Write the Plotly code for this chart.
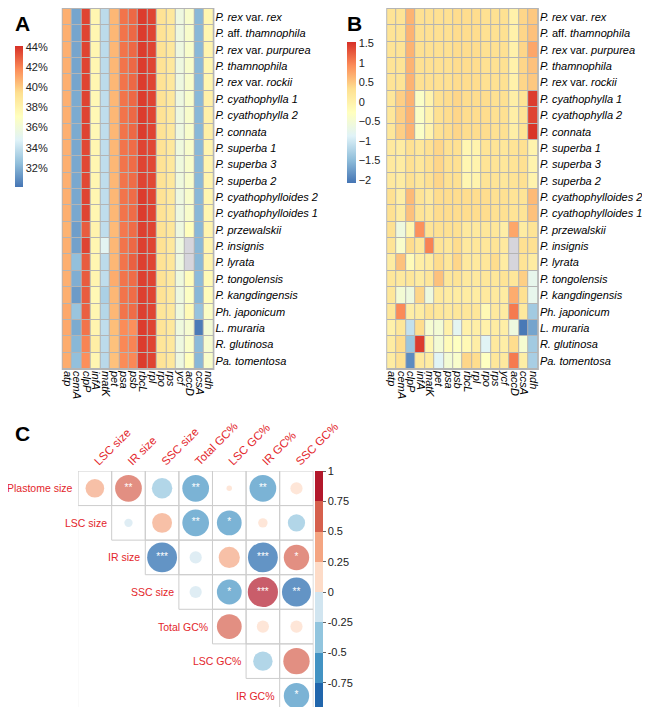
import numpy as np
import plotly.graph_objects as go

nan = np.nan

genes = ['atp', 'cemA', 'clpP', 'infA', 'matK', 'pet', 'psa', 'psb',
         'rbcL', 'rpl', 'rpo', 'rps', 'ycf', 'accD', 'ccsA', 'ndh']

taxa = [
    '<i>P. rex</i> var. <i>rex</i>',
    '<i>P.</i> aff. <i>thamnophila</i>',
    '<i>P. rex</i> var. <i>purpurea</i>',
    '<i>P. thamnophila</i>',
    '<i>P. rex</i> var. <i>rockii</i>',
    '<i>P. cyathophylla 1</i>',
    '<i>P. cyathophylla 2</i>',
    '<i>P. connata</i>',
    '<i>P. superba 1</i>',
    '<i>P. superba 3</i>',
    '<i>P. superba 2</i>',
    '<i>P. cyathophylloides 2</i>',
    '<i>P. cyathophylloides 1</i>',
    '<i>P. przewalskii</i>',
    '<i>P. insignis</i>',
    '<i>P. lyrata</i>',
    '<i>P. tongolensis</i>',
    '<i>P. kangdingensis</i>',
    '<i>Ph. japonicum</i>',
    '<i>L. muraria</i>',
    '<i>R. glutinosa</i>',
    '<i>Pa. tomentosa</i>',
]

# panel A: GC content (%) per gene group
gc_content = [
    [40.8, 31.6, 43.6, 37.8, 33.7, 40.6, 42.4, 42.7, 43.8, 43.6, 39.2, 38.8, 35.8, 36.6, 32.2, 37.8],
    [40.8, 31.6, 43.6, 37.8, 33.7, 40.6, 42.4, 42.7, 43.8, 43.6, 39.2, 38.8, 35.8, 36.6, 32.2, 37.8],
    [40.8, 31.6, 43.6, 37.8, 33.7, 40.6, 42.4, 42.7, 43.8, 43.6, 39.2, 38.8, 35.8, 36.6, 32.2, 37.9],
    [40.8, 31.6, 43.6, 37.8, 33.7, 40.6, 42.4, 42.7, 43.8, 43.6, 39.2, 38.8, 35.8, 36.6, 32.2, 37.8],
    [40.8, 31.6, 43.6, 37.8, 33.7, 40.6, 42.4, 42.7, 43.8, 43.6, 39.2, 38.8, 35.8, 36.6, 32.2, 37.8],
    [40.8, 31.8, 43.6, 37.6, 33.8, 40.6, 42.4, 42.7, 43.8, 43.6, 39.2, 38.8, 35.8, 36.6, 32.2, 38.2],
    [40.8, 31.8, 43.6, 37.6, 33.8, 40.6, 42.4, 42.7, 43.8, 43.6, 39.2, 38.8, 35.8, 36.6, 32.2, 38.2],
    [40.8, 31.8, 43.6, 37.6, 33.8, 40.6, 42.4, 42.7, 43.8, 43.6, 39.2, 38.8, 35.8, 36.6, 32.2, 38.3],
    [40.8, 31.7, 43.5, 37.8, 33.8, 40.6, 42.4, 42.6, 43.6, 43.5, 39.2, 38.8, 35.9, 36.6, 32.2, 37.9],
    [40.8, 31.7, 43.5, 37.8, 33.8, 40.6, 42.4, 42.6, 43.6, 43.5, 39.2, 38.8, 35.9, 36.6, 32.2, 37.9],
    [40.8, 31.7, 43.5, 37.8, 33.8, 40.6, 42.4, 42.6, 43.6, 43.5, 39.2, 38.8, 35.9, 36.6, 32.2, 37.9],
    [40.8, 31.7, 43.6, 37.8, 33.8, 40.6, 42.4, 42.6, 43.8, 43.6, 39.2, 38.8, 35.8, 36.6, 32.2, 37.8],
    [40.8, 31.7, 43.6, 37.8, 33.8, 40.6, 42.4, 42.6, 43.8, 43.6, 39.2, 38.8, 35.8, 36.6, 32.2, 37.8],
    [40.7, 31.4, 43.0, 38.0, 33.8, 40.5, 42.3, 42.6, 43.7, 43.6, 39.2, 38.9, 35.8, 37.2, 32.2, 37.9],
    [40.8, 31.5, 43.6, 37.8, 35.0, 40.6, 42.4, 42.7, 43.7, 43.6, 39.3, 38.8, 35.8, nan, 32.2, 37.9],
    [40.8, 32.5, 43.0, 37.8, 33.7, 40.6, 42.4, 42.9, 43.7, 43.6, 39.2, 38.9, 35.8, nan, 32.2, 37.9],
    [40.8, 31.9, 43.0, 37.9, 33.8, 40.9, 42.4, 42.6, 43.7, 43.6, 39.2, 38.8, 35.9, 37.3, 32.3, 37.5],
    [40.8, 31.3, 43.0, 37.6, 33.2, 40.6, 42.4, 42.6, 43.7, 43.6, 39.2, 38.8, 35.8, 36.9, 32.2, 37.3],
    [41.0, 32.7, 42.9, 37.8, 33.5, 40.6, 42.4, 42.6, 43.7, 43.6, 39.0, 38.8, 35.9, 37.5, 32.6, 36.8],
    [41.0, 31.8, 42.4, 37.9, 33.8, 40.4, 41.8, 41.7, 43.8, 43.6, 39.1, 38.8, 35.9, 36.4, 30.3, 36.2],
    [40.9, 32.2, 42.0, 38.4, 33.7, 40.3, 41.9, 42.0, 43.8, 43.6, 39.0, 38.8, 35.8, 36.7, 32.3, 36.4],
    [40.9, 32.5, 41.7, 37.8, 33.6, 40.3, 41.8, 41.9, 43.8, 43.6, 39.1, 38.8, 35.8, 37.2, 32.2, 36.6],
]

# panel B: scaled values
scaled = [
    [0.25, 0.25, 0.65, 0.3, 0.3, 0.3, 0.3, 0.35, 0.35, 0.35, 0.3, 0.3, 0.3, 0.0, 0.4, 0.5],
    [0.25, 0.25, 0.65, 0.3, 0.3, 0.3, 0.3, 0.35, 0.35, 0.35, 0.3, 0.3, 0.3, 0.0, 0.4, 0.55],
    [0.25, 0.25, 0.65, 0.3, 0.3, 0.3, 0.3, 0.35, 0.35, 0.35, 0.3, 0.3, 0.3, 0.0, 0.4, 0.75],
    [0.25, 0.25, 0.65, 0.3, 0.3, 0.3, 0.3, 0.35, 0.35, 0.35, 0.3, 0.3, 0.3, 0.0, 0.4, 0.55],
    [0.25, 0.25, 0.65, 0.3, 0.3, 0.3, 0.3, 0.35, 0.35, 0.35, 0.3, 0.3, 0.3, 0.0, 0.4, 0.5],
    [0.2, 0.45, 0.65, -0.35, -0.05, 0.3, 0.35, 0.4, 0.35, 0.35, 0.35, 0.3, 0.3, 0.05, 0.25, 1.45],
    [0.2, 0.45, 0.65, -0.35, -0.05, 0.3, 0.35, 0.4, 0.35, 0.35, 0.35, 0.3, 0.3, 0.05, 0.25, 1.4],
    [0.2, 0.45, 0.65, -0.35, -0.05, 0.3, 0.35, 0.4, 0.35, 0.35, 0.35, 0.3, 0.3, 0.05, 0.25, 1.5],
    [0.15, 0.1, 0.3, 0.2, 0.3, 0.4, 0.3, 0.3, -0.1, -0.05, 0.25, 0.25, 0.2, 0.25, 0.3, -0.05],
    [0.15, 0.1, 0.3, 0.2, 0.3, 0.4, 0.3, 0.3, -0.1, -0.05, 0.25, 0.25, 0.2, 0.25, 0.3, -0.05],
    [0.15, 0.1, 0.3, 0.2, 0.3, 0.4, 0.3, 0.3, -0.1, -0.05, 0.25, 0.25, 0.2, 0.25, 0.3, -0.05],
    [0.3, 0.05, 0.6, 0.25, 0.15, 0.35, 0.35, 0.35, 0.35, 0.35, 0.35, 0.3, 0.3, 0.25, 0.25, 0.6],
    [0.3, 0.1, 0.55, 0.25, 0.2, 0.35, 0.35, 0.35, 0.35, 0.35, 0.35, 0.3, 0.3, 0.25, 0.25, 0.55],
    [0.3, -0.6, -0.1, 0.9, 0.25, 0.3, 0.3, 0.3, 0.15, 0.15, 0.2, 0.2, 0.05, 0.75, 0.1, 0.25],
    [0.25, -0.4, 0.35, 0.2, 1.0, 0.25, 0.2, 0.35, 0.15, 0.2, 0.2, 0.25, 0.15, nan, 0.3, 0.3],
    [0.1, 0.55, -0.2, 0.05, 0.1, 0.35, 0.2, 0.4, 0.15, 0.15, 0.2, 0.35, 0.1, nan, 0.25, 0.1],
    [0.2, 0.15, 0.2, 0.1, 0.2, 0.55, 0.2, 0.25, 0.15, 0.15, 0.2, 0.2, 0.25, 0.2, 0.45, -0.75],
    [0.2, -0.5, -0.6, 0.4, -0.6, 0.15, 0.1, 0.1, 0.1, 0.1, 0.15, 0.15, 0.1, 0.7, 0.3, -0.75],
    [0.2, 0.95, 0.05, 0.1, 0.25, 0.2, 0.15, 0.2, 0.2, 0.2, -0.15, 0.15, 0.1, 1.05, 0.15, -1.35],
    [0.0, 0.2, -1.1, 0.35, -0.45, -0.5, 0.0, -0.8, 0.0, 0.05, 0.0, 0.1, 0.05, -0.6, -2.05, -1.7],
    [0.1, 0.35, -1.4, 1.45, -0.1, -0.5, -0.2, -0.3, -0.15, 0.05, -0.85, 0.15, 0.05, 0.35, -0.45, -1.35],
    [0.1, 0.3, -1.9, 0.15, 0.1, -0.85, -0.5, -0.4, 0.4, 0.35, -0.3, 0.2, 0.15, 1.05, 0.05, -1.3],
]

# panel C: correlations (upper triangle)
row_traits = ['Plastome size', 'LSC size', 'IR size', 'SSC size', 'Total GC%', 'LSC GC%', 'IR GC%']
col_traits = ['LSC size', 'IR size', 'SSC size', 'Total GC%', 'LSC GC%', 'IR GC%', 'SSC GC%']
corr = [
    [0.35, 0.72, -0.42, -0.72, 0.03, -0.72, 0.15],
    [None, -0.07, 0.4, -0.72, -0.62, 0.09, -0.3],
    [None, None, -0.9, -0.15, 0.45, -0.9, 0.65],
    [None, None, None, -0.15, -0.62, 0.92, -0.85],
    [None, None, None, None, 0.62, 0.15, 0.15],
    [None, None, None, None, None, -0.38, 0.7],
    [None, None, None, None, None, None, -0.65],
]
signif = [
    ['', '**', '', '**', '', '**', ''],
    [None, '', '', '**', '*', '', ''],
    [None, None, '***', '', '', '***', '*'],
    [None, None, None, '', '*', '***', '**'],
    [None, None, None, None, '', '', ''],
    [None, None, None, None, None, '', ''],
    [None, None, None, None, None, None, '*'],
]

W, H = 650, 707
FONT = 'Liberation Sans, Arial, sans-serif'
RED = '#e3262b'

rdylbu = [[0, '#4575B4'], [1/6, '#91BFDB'], [2/6, '#E0F3F8'], [3/6, '#FFFFBF'],
          [4/6, '#FEE090'], [5/6, '#FC8D59'], [1, '#D73027']]
rdbu8 = ['#2166AC', '#4393C3', '#92C5DE', '#D1E5F0', '#FDDBC7', '#F4A582', '#D6604D', '#B2182B']
rdbu_steps = []
for k, c in enumerate(rdbu8):
    rdbu_steps += [[k / 8, c], [(k + 1) / 8, c]]

xi = list(range(len(genes)))
yi = list(range(len(taxa)))

fig = go.Figure()


def add_heat(z, xa, ya, zmin, zmax, cbar):
    z = np.array(z, dtype=float)
    fig.add_trace(go.Heatmap(z=z, x=xi, y=yi, xaxis=xa, yaxis=ya, colorscale=rdylbu,
                             zmin=zmin, zmax=zmax, xgap=1, ygap=1, colorbar=cbar,
                             hoverongaps=False))
    na = np.where(np.isnan(z), 1.0, np.nan)
    fig.add_trace(go.Heatmap(z=na, x=xi, y=yi, xaxis=xa, yaxis=ya,
                             colorscale=[[0, '#d6d5dc'], [1, '#d6d5dc']],
                             showscale=False, xgap=1, ygap=1, hoverinfo='skip'))


gc_ticks = [32, 34, 36, 38, 40, 42, 44]
add_heat(gc_content, 'x', 'y', 30.1, 44.1,
         dict(x=7 / W, xanchor='left', y=1 - 38 / H, yanchor='top', len=141, lenmode='pixels',
              thickness=8, outlinewidth=0, xpad=0, ypad=0, ticks='',
              tickvals=gc_ticks, ticktext=['%d%%' % t for t in gc_ticks],
              tickfont=dict(size=11, color='#222')))
add_heat(scaled, 'x2', 'y2', -2.08, 1.53,
         dict(x=353 / W, xanchor='left', y=1 - 34 / H, yanchor='top', len=141, lenmode='pixels',
              thickness=9, outlinewidth=0, xpad=0, ypad=0, ticks='',
              tickvals=[-2, -1.5, -1, -0.5, 0, 0.5, 1, 1.5],
              tickfont=dict(size=11, color='#222')))

# panel C
C_X0, C_X1, C_Y0, C_Y1 = 73, 318, 463, 705
cell_px = (C_X1 - C_X0) / len(col_traits)
cx, cy, cz, cs, ct = [], [], [], [], []
for i, row in enumerate(corr):
    for j, r in enumerate(row):
        if r is None:
            continue
        cx.append(j)
        cy.append(i)
        cz.append(r)
        cs.append(0.9 * cell_px * np.sqrt(abs(r)))
        ct.append(signif[i][j])

fig.add_trace(go.Scatter(
    x=cx, y=cy, xaxis='x3', yaxis='y3', mode='markers+text', text=ct,
    textposition='middle center', textfont=dict(color='white', size=10),
    marker=dict(size=cs, color=cz, colorscale=rdbu_steps, cmin=-1, cmax=1,
                line=dict(width=0),
                colorbar=dict(x=320 / W, xanchor='left', y=1 - 463 / H, yanchor='top',
                              len=242, lenmode='pixels', thickness=8, outlinewidth=0,
                              xpad=0, ypad=0, ticks='outside', ticklen=3, tickcolor='#666',
                              tickvals=[-1, -0.75, -0.5, -0.25, 0, 0.25, 0.5, 0.75, 1],
                              ticktext=['-1', '-0.75', '-0.5', '-0.25', '0', '0.25', '0.5', '0.75', '1'],
                              tickfont=dict(size=11, color='#222'))),
    showlegend=False, hoverinfo='skip'))

shapes = [dict(type='rect', xref='x3 domain', yref='y3 domain', x0=0, x1=1, y0=0, y1=1,
               fillcolor='white', line=dict(width=0), layer='below')]
for i, row in enumerate(corr):
    for j, r in enumerate(row):
        if r is None:
            continue
        shapes.append(dict(type='rect', xref='x3', yref='y3', x0=j - 0.5, x1=j + 0.5,
                           y0=i - 0.5, y1=i + 0.5, line=dict(color='#cdcdcd', width=1),
                           fillcolor='rgba(0,0,0,0)', layer='below'))

annotations = []
row_px = (C_Y1 - C_Y0) / len(row_traits)
for i, name in enumerate(row_traits):
    annotations.append(dict(xref='paper', yref='paper',
                            x=(C_X0 + i * cell_px - 4) / W,
                            y=1 - (C_Y0 + (i + 0.5) * row_px) / H,
                            text=name, showarrow=False, xanchor='right', yanchor='middle',
                            borderpad=0, font=dict(size=10.5, color=RED)))
for letter, px, py in [('A', 5, 2), ('B', 351, 2), ('C', 5, 412)]:
    annotations.append(dict(xref='paper', yref='paper', x=px / W, y=1 - py / H, text='<b>%s</b>' % letter,
                            showarrow=False, xanchor='left', yanchor='top',
                            font=dict(size=21, color='black')))

heat_x = dict(tickvals=xi, ticktext=['<i>%s</i>' % g for g in genes], tickangle=90,
              range=[-0.6, len(genes) - 0.4], showgrid=False, zeroline=False, ticks='',
              tickfont=dict(size=11, color='black'))
heat_y = dict(tickvals=yi, ticktext=taxa, side='right', range=[len(taxa) - 0.44, -0.56],
              showgrid=False, zeroline=False, ticks='', tickfont=dict(size=11, color='black'))

fig.update_layout(
    width=W, height=H, margin=dict(l=0, r=0, t=0, b=0),
    paper_bgcolor='white', plot_bgcolor='#b4b4b4',
    font=dict(family=FONT, size=11, color='black'),
    showlegend=False,
    xaxis=dict(domain=[56 / W, 215 / W], anchor='y', **heat_x),
    yaxis=dict(domain=[1 - 362 / H, 1], anchor='x', **heat_y),
    xaxis2=dict(domain=[394 / W, 553 / W], anchor='y2', **heat_x),
    yaxis2=dict(domain=[1 - 362 / H, 1], anchor='x2', **heat_y),
    xaxis3=dict(domain=[C_X0 / W, C_X1 / W], anchor='y3', side='top', range=[-0.5, 6.5],
                tickvals=list(range(7)), ticktext=col_traits, tickangle=-45,
                showgrid=False, zeroline=False, ticks='',
                tickfont=dict(size=11.5, color=RED)),
    yaxis3=dict(domain=[1 - C_Y1 / H, 1 - C_Y0 / H], anchor='x3', range=[6.5, -0.5],
                showticklabels=False, showgrid=False, zeroline=False, ticks=''),
    shapes=shapes,
    annotations=annotations,
)

fig.write_html('out.html')
